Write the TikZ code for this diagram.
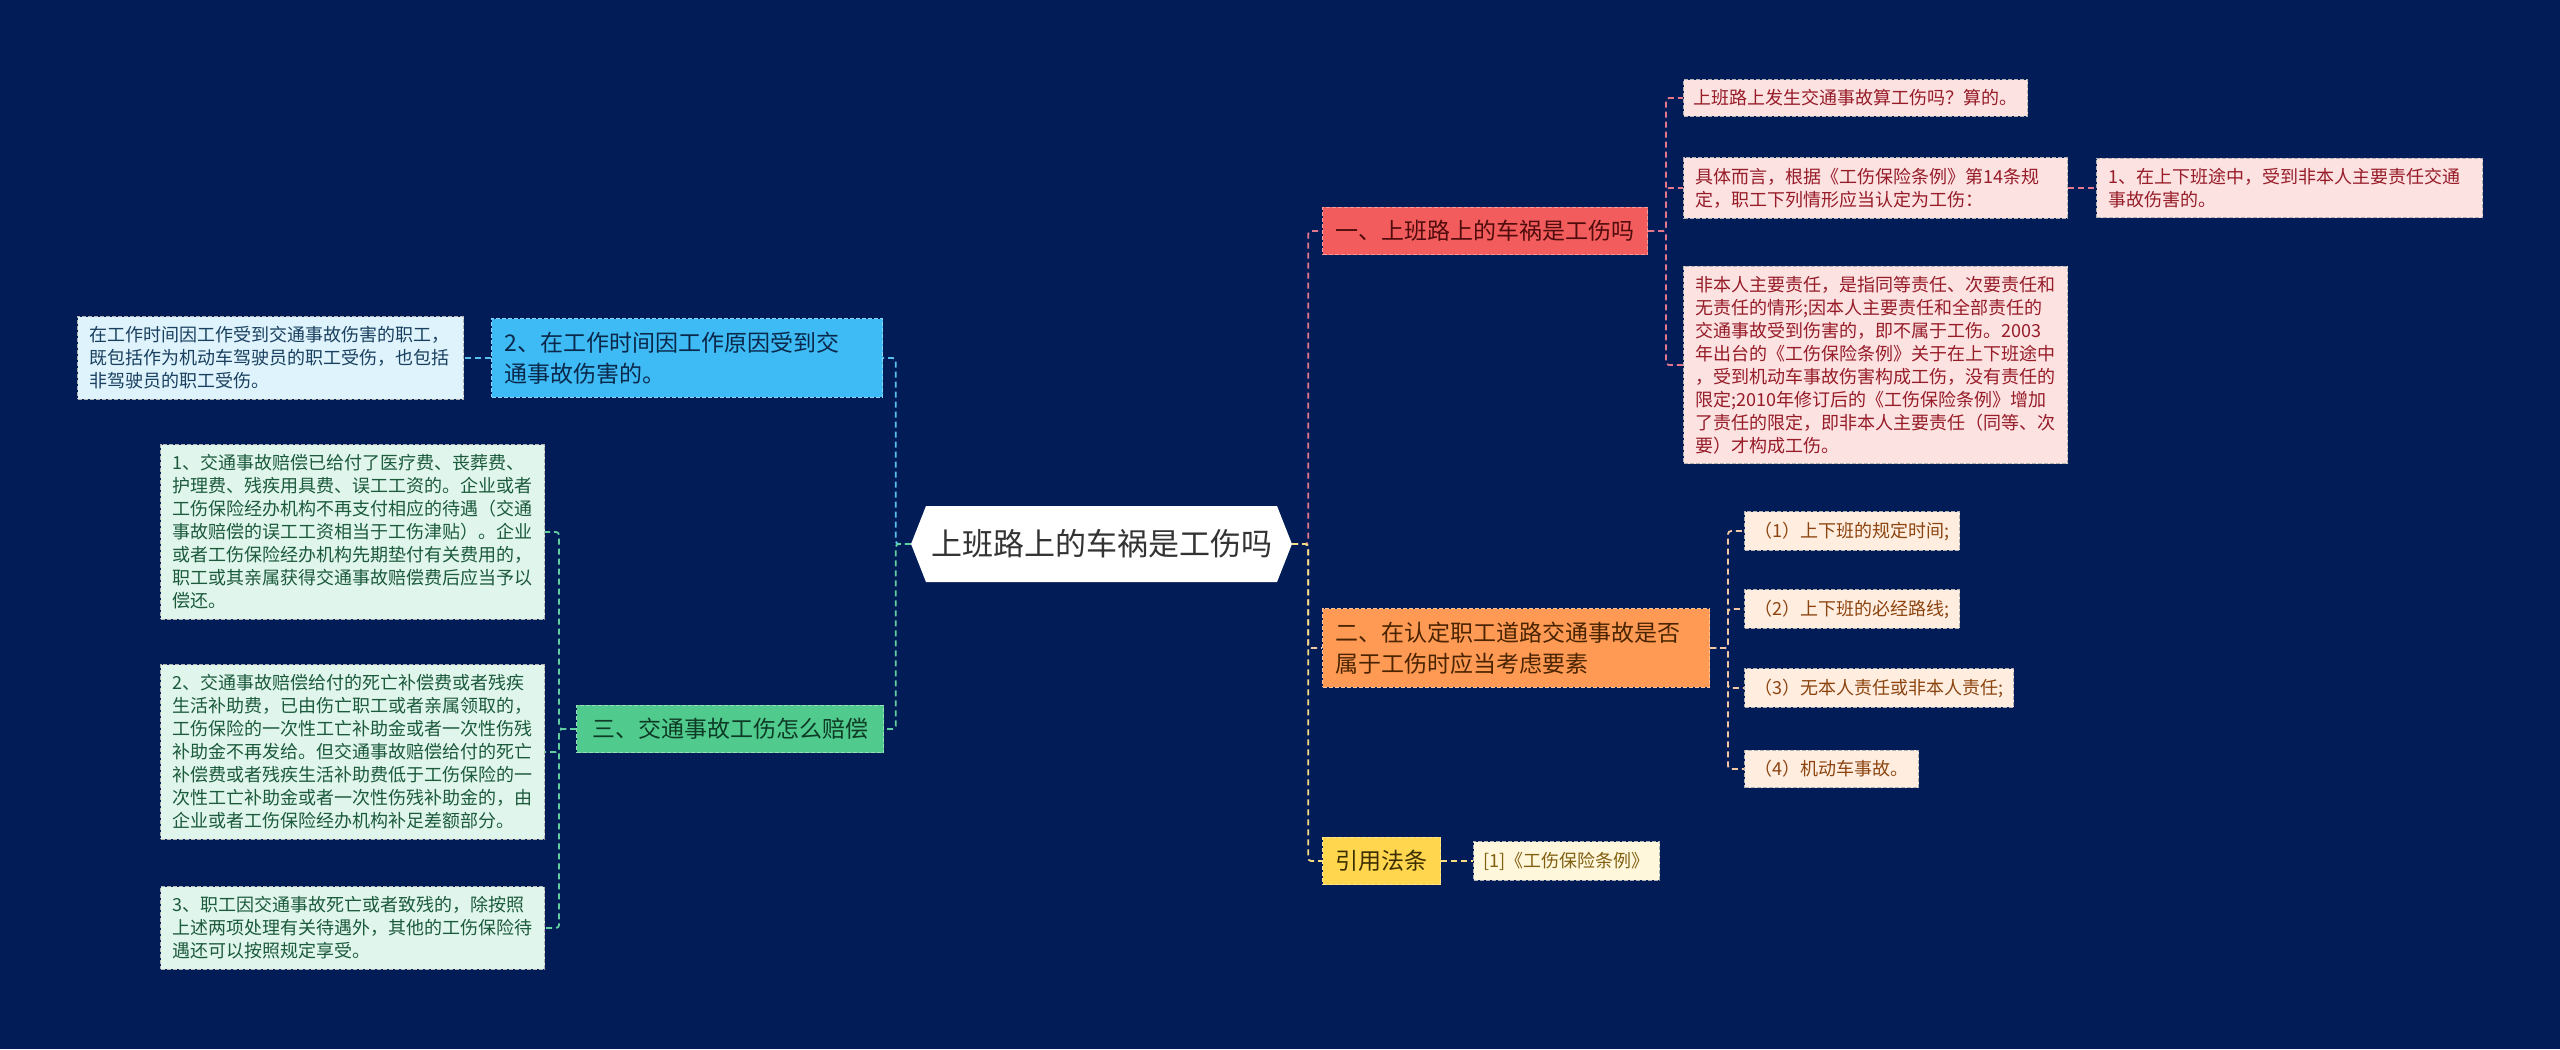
\documentclass[tikz,border=0pt]{standalone}
\usepackage{fontspec}
\setmainfont{Noto Sans CJK SC}
\usetikzlibrary{shapes.symbols}
\definecolor{bg}{RGB}{2,28,88}
\definecolor{redF}{RGB}{242,92,92}
\definecolor{redT}{RGB}{80,12,12}
\definecolor{redCF}{RGB}{253,226,226}
\definecolor{redCT}{RGB}{150,28,40}
\definecolor{redL}{RGB}{226,120,140}
\definecolor{orF}{RGB}{255,154,84}
\definecolor{orT}{RGB}{74,36,0}
\definecolor{orCF}{RGB}{255,238,224}
\definecolor{orCT}{RGB}{140,68,16}
\definecolor{orL}{RGB}{245,200,165}
\definecolor{yeF}{RGB}{255,214,78}
\definecolor{yeT}{RGB}{60,46,0}
\definecolor{yeCF}{RGB}{255,247,220}
\definecolor{yeCT}{RGB}{128,96,16}
\definecolor{yeL}{RGB}{245,222,130}
\definecolor{grF}{RGB}{80,203,141}
\definecolor{grT}{RGB}{14,59,38}
\definecolor{grCF}{RGB}{224,246,236}
\definecolor{grCT}{RGB}{28,90,60}
\definecolor{grL}{RGB}{96,208,160}
\definecolor{blF}{RGB}{62,187,245}
\definecolor{blT}{RGB}{10,40,74}
\definecolor{blCF}{RGB}{222,243,252}
\definecolor{blCT}{RGB}{26,64,96}
\definecolor{blL}{RGB}{90,192,240}
\begin{document}
\begin{tikzpicture}[x=1bp,y=-1bp,
  leaf/.style={anchor=west, align=left, inner xsep=12bp, inner ysep=10bp,
    font=\fontsize{18bp}{23bp}\selectfont, draw=gray!60,
    dash pattern=on 4bp off 2bp, line width=1bp},
  branch/.style={anchor=west, align=left, inner xsep=13bp, inner ysep=13bp,
    font=\fontsize{23bp}{31bp}\selectfont, dash pattern=on 4bp off 2bp, line width=1bp},
  conn/.style={line width=1.8bp, dash pattern=on 6bp off 4bp, rounded corners=3bp},
  redleaf/.style={leaf, fill=redCF, text=redCT},
  orleaf/.style={leaf, fill=orCF, text=orCT},
  yeleaf/.style={leaf, fill=yeCF, text=yeCT},
  grleaf/.style={leaf, fill=grCF, text=grCT},
  blleaf/.style={leaf, fill=blCF, text=blCT}
]
\fill[bg] (0,0) rectangle (2560,1049);
\useasboundingbox (0,0) rectangle (2560,1049);

% centre
\node[signal, signal to=west and east, signal pointer angle=137, fill=white,
  minimum height=76bp, inner xsep=5bp, text=black!80,
  font=\fontsize{31bp}{36bp}\selectfont] (center) at (1101.5,544) {上班路上的车祸是工伤吗};

% left side
\node[branch, fill=blF, text=blT, draw=blF!60!white, text width=365bp] (blue) at (491,358)
  {2、在工作时间因工作原因受到交\\通事故伤害的。};
\node[blleaf, text width=362bp] (det1) at (77,358)
  {在工作时间因工作受到交通事故伤害的职工，\\既包括作为机动车驾驶员的职工受伤，也包括\\非驾驶员的职工受伤。};

\node[branch, fill=grF, text=grT, draw=grF!60!white, inner xsep=15.5bp] (green) at (576,729)
  {三、交通事故工伤怎么赔偿};
\node[grleaf, text width=360bp] (c1) at (160,532)
  {1、交通事故赔偿已给付了医疗费、丧葬费、\\护理费、残疾用具费、误工工资的。企业或者\\工伤保险经办机构不再支付相应的待遇（交通\\事故赔偿的误工工资相当于工伤津贴）。企业\\或者工伤保险经办机构先期垫付有关费用的，\\职工或其亲属获得交通事故赔偿费后应当予以\\偿还。};
\node[grleaf, text width=360bp] (c2) at (160,752)
  {2、交通事故赔偿给付的死亡补偿费或者残疾\\生活补助费，已由伤亡职工或者亲属领取的，\\工伤保险的一次性工亡补助金或者一次性伤残\\补助金不再发给。但交通事故赔偿给付的死亡\\补偿费或者残疾生活补助费低于工伤保险的一\\次性工亡补助金或者一次性伤残补助金的，由\\企业或者工伤保险经办机构补足差额部分。};
\node[grleaf, text width=360bp] (c3) at (160,928)
  {3、职工因交通事故死亡或者致残的，除按照\\上述两项处理有关待遇外，其他的工伤保险待\\遇还可以按照规定享受。};

% right side
\node[branch, fill=redF, text=redT, draw=redF!60!white] (red) at (1322,231)
  {一、上班路上的车祸是工伤吗};
\node[redleaf, inner xsep=10bp] (r1) at (1683,98) {上班路上发生交通事故算工伤吗？算的。};
\node[redleaf, text width=360bp] (r2) at (1683,188)
  {具体而言，根据《工伤保险条例》第14条规\\定，职工下列情形应当认定为工伤：};
\node[redleaf, text width=362bp] (r2c) at (2096,188)
  {1、在上下班途中，受到非本人主要责任交通\\事故伤害的。};
\node[redleaf, text width=360bp] (r3) at (1683,365)
  {非本人主要责任，是指同等责任、次要责任和\\无责任的情形;因本人主要责任和全部责任的\\交通事故受到伤害的，即不属于工伤。2003\\年出台的《工伤保险条例》关于在上下班途中\\，受到机动车事故伤害构成工伤，没有责任的\\限定;2010年修订后的《工伤保险条例》增加\\了责任的限定，即非本人主要责任（同等、次\\要）才构成工伤。};

\node[branch, fill=orF, text=orT, draw=orF!60!white, text width=361bp] (orange) at (1322,648)
  {二、在认定职工道路交通事故是否\\属于工伤时应当考虑要素};
\node[orleaf, inner xsep=10bp] (o1) at (1744,531) {（1）上下班的规定时间;};
\node[orleaf, inner xsep=10bp] (o2) at (1744,609) {（2）上下班的必经路线;};
\node[orleaf, inner xsep=10bp] (o3) at (1744,688) {（3）无本人责任或非本人责任;};
\node[orleaf, inner xsep=10bp] (o4) at (1744,769) {（4）机动车事故。};

\node[branch, fill=yeF, text=yeT, draw=yeF!60!white] (yellow) at (1322,861) {引用法条};
\node[yeleaf, inner xsep=10bp] (y1) at (1473,861) {[1]《工伤保险条例》};

% connectors from centre
\draw[conn, blL] (center.west) -- ++(-15,0) |- (blue.east);
\draw[conn, grL] (center.west) -- ++(-15,0) |- (green.east);
\draw[conn, redL] (center.east) -- ++(16,0) |- (red.west);
\draw[conn, orL] (center.east) -- ++(16,0) |- (orange.west);
\draw[conn, yeL] (center.east) -- ++(16,0) |- (yellow.west);

% children connectors
\draw[conn, blL] (blue.west) -- (det1.east);
\foreach \c in {c1,c2,c3} \draw[conn, grL] (green.west) -- ++(-17,0) |- (\c.east);
\foreach \c in {r1,r2,r3} \draw[conn, redL] (red.east) -- ++(18,0) |- (\c.west);
\draw[conn, redL] (r2.east) -- (r2c.west);
\foreach \c in {o1,o2,o3,o4} \draw[conn, orL] (orange.east) -- ++(18,0) |- (\c.west);
\draw[conn, yeL] (yellow.east) -- (y1.west);
\end{tikzpicture}
\end{document}
